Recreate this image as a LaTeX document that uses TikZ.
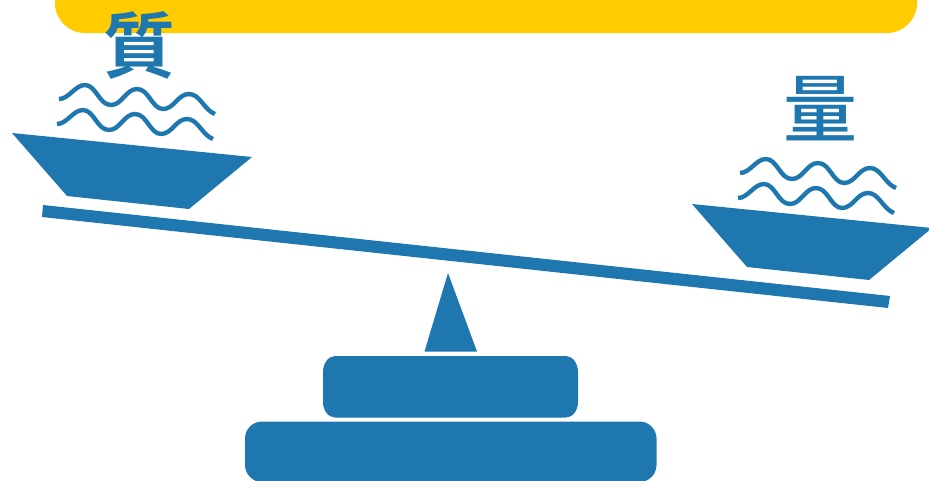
\documentclass[tikz,border=0pt]{standalone}
\usepackage{fontspec}
\newfontfamily\cjkb[Scale=1]{Noto Sans CJK TC Bold}
\newfontfamily\cjkm[Scale=1]{Noto Sans CJK TC Medium}
\definecolor{scaleblue}{HTML}{1F77B0}
\definecolor{banner}{HTML}{FFCC00}
\tikzset{
  solidpart/.style={fill=scaleblue,draw=none},
  wavyline/.style={draw=scaleblue,line width=4.4pt,line cap=butt},
  glyph/.style={text=scaleblue,inner sep=0pt,outer sep=0pt,anchor=center}
}
\newcommand{\steamwave}{(0,0) .. controls (10,0) and (16,-14) .. (26,-14) .. controls (37,-14) and (40,6) .. (52,6) .. controls (63,6) and (67,-10) .. (78,-10) .. controls (90,-10) and (93,10) .. (104,10) .. controls (115,10) and (119,-5) .. (130,-5) .. controls (141,-5) and (145,11) .. (156,15)}
\newcommand{\bowl}{(12,133) -- (252,157) -- (189,209) -- (67,196) -- cycle}
\begin{document}
\begin{tikzpicture}[x=1pt,y=-1pt]
\useasboundingbox (0,0) rectangle (929,480);
\begin{scope}
\clip (0,0) rectangle (929,480);
\fill[banner] (55,-40) rectangle (917,3) (55,0) -- (917,0) arc[start angle=0,end angle=-90,radius=0] -- cycle;
\fill[banner,rounded corners=30pt] (55,-60) -- (55,33) -- (917,33) -- (917,-60) -- cycle;
% left pan
\fill[solidpart] \bowl;
\draw[wavyline,shift={(59,99)}] \steamwave;
\draw[wavyline,shift={(57,124)}] \steamwave;
% right pan
\fill[solidpart,shift={(680,71)}] \bowl;
\draw[wavyline,shift={(740,173)}] \steamwave;
\draw[wavyline,shift={(738,198)}] \steamwave;
% beam
\fill[solidpart] (43,205) -- (890,296) -- (888,308) -- (42,217) -- cycle;
% fulcrum
\fill[solidpart] (448,273) -- (477,351.5) -- (424.5,351.5) -- cycle;
\fill[solidpart] (335,356) -- (566,356) .. controls (573,356) and (578,364) .. (578,372) -- (578,402) .. controls (578,410) and (573,417.5) .. (566,417.5) -- (335,417.5) .. controls (328,417.5) and (323,410) .. (323,402) -- (323,372) .. controls (323,364) and (328,356) .. (335,356) -- cycle;
\fill[solidpart,rounded corners=17pt] (245,421.5) rectangle (656.5,482);
\end{scope}
\node[glyph,font=\cjkb\fontsize{72}{72}\selectfont] (quality) at (139,45) {質};
\node[glyph,font=\cjkm\fontsize{74}{74}\selectfont] (quantity) at (820,109) {量};
\end{tikzpicture}
\end{document}
